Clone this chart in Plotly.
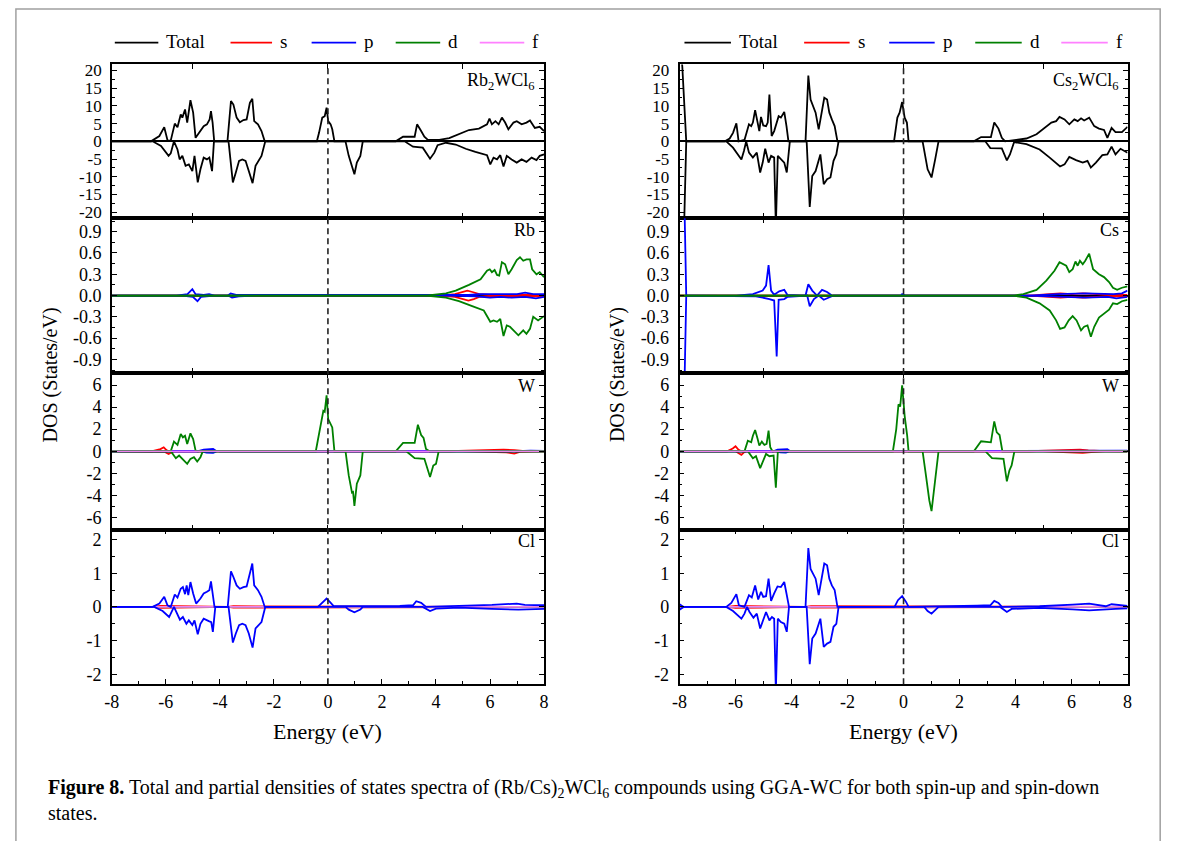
import plotly.graph_objects as go

# ---------------------------------------------------------------------------
# Density of states data: (energy in eV, DOS in states/eV).
# Spin-down channels are stored with negative sign, as plotted.
# ---------------------------------------------------------------------------

# ---- Rb2WCl6 : total DOS ----
RB_TOTAL_UP = [(-8, 0), (-6.55, 0), (-6.24, 1.5), (-6.06, 4.0), (-5.94, 0.3), (-5.82, 0.2), (-5.67, 5.0),
               (-5.57, 4.0), (-5.45, 7.6), (-5.39, 6.7), (-5.29, 9.0), (-5.21, 5.3), (-5.09, 11.6), (-4.99, 8.1),
               (-4.90, 1.0), (-4.72, 2.9), (-4.60, 4.3), (-4.48, 4.8), (-4.38, 6.2), (-4.33, 8.5), (-4.27, 5.3),
               (-4.21, 0), (-3.72, 0), (-3.66, 5.3), (-3.59, 11.4), (-3.50, 10.4), (-3.38, 6.7), (-3.26, 5.4),
               (-3.13, 6.0), (-3.01, 6.2), (-2.89, 10.9), (-2.80, 12.0), (-2.73, 5.7), (-2.59, 4.8), (-2.46, 2.9),
               (-2.34, 0), (-0.41, 0), (-0.33, 2.4), (-0.21, 6.7), (-0.12, 7.1), (-0.05, 9.5), (0.01, 5.7),
               (0.10, 4.8), (0.16, 3.4), (0.24, 0), (2.51, 0), (2.78, 1.3), (3.21, 1.3), (3.30, 4.8), (3.45, 2.9),
               (3.57, 1.3), (3.70, 0.4), (4.12, 0.4), (4.49, 0.9), (4.85, 2.0), (5.22, 3.2), (5.59, 3.6),
               (5.89, 4.8), (5.98, 6.4), (6.07, 4.8), (6.20, 5.7), (6.32, 4.8), (6.44, 6.7), (6.56, 5.3),
               (6.68, 3.4), (6.87, 5.3), (6.99, 5.7), (7.17, 4.8), (7.35, 5.3), (7.48, 5.9), (7.66, 3.8),
               (7.84, 4.1), (8.0, 2.9)]
RB_TOTAL_DN = [(-8, 0), (-6.49, 0), (-6.18, -1.3), (-5.90, -4.1), (-5.82, -3.4), (-5.70, 0), (-5.57, -2.3),
               (-5.49, -5.1), (-5.39, -4.1), (-5.27, -6.9), (-5.15, -6.5), (-5.02, -8.4), (-4.94, -4.1),
               (-4.82, -11.6), (-4.72, -7.9), (-4.60, -4.6), (-4.48, -5.1), (-4.39, -4.6), (-4.29, -8.4),
               (-4.22, 0), (-3.68, 0), (-3.62, -4.1), (-3.52, -11.6), (-3.41, -8.8), (-3.29, -5.5), (-3.17, -5.1),
               (-3.05, -5.5), (-2.93, -8.4), (-2.79, -11.8), (-2.68, -6.9), (-2.56, -5.5), (-2.46, -4.1),
               (-2.32, 0), (0.65, 0), (0.77, -4.1), (0.89, -6.9), (0.98, -9.3), (1.07, -6.0), (1.20, -4.1),
               (1.29, 0), (2.84, 0), (3.15, -1.5), (3.51, -1.8), (3.78, -4.9), (3.94, -3.2), (4.06, -1.1),
               (4.37, -0.4), (4.73, -0.9), (5.10, -2.1), (5.46, -3.0), (5.89, -3.9), (6.01, -6.5), (6.13, -4.6),
               (6.26, -5.1), (6.38, -3.9), (6.50, -7.1), (6.62, -4.1), (6.80, -5.1), (6.99, -6.0), (7.17, -5.1),
               (7.35, -5.8), (7.54, -4.6), (7.72, -5.3), (7.84, -4.1), (8.0, -3.7)]

# ---- Rb2WCl6 : Rb partial DOS ----
RB_S_UP = [(-8, 0), (4.2, 0), (4.7, 0.02), (5.0, 0.05), (5.16, 0.07), (5.35, 0.05), (5.6, 0.02), (6.0, 0.01),
           (7.0, 0.01), (8, 0.01)]
RB_S_DN = [(-8, 0), (4.2, 0), (4.7, -0.02), (5.0, -0.05), (5.2, -0.07), (5.4, -0.05), (5.6, -0.02), (6.0, -0.01),
           (8, -0.01)]
RB_P_UP = [(-8, 0), (-5.6, 0), (-5.2, 0.02), (-5.02, 0.09), (-4.9, 0.02), (-4.6, 0.01), (-4.4, 0.02), (-4.2, 0),
           (-3.7, 0), (-3.6, 0.03), (-3.4, 0.01), (-3.0, 0.01), (-2.6, 0), (4.5, 0), (5.2, 0.01), (5.6, 0.02),
           (6.0, 0.02), (6.3, 0.03), (6.6, 0.02), (7.0, 0.02), (7.3, 0.04), (7.6, 0.02), (8, 0.02)]
RB_P_DN = [(-8, 0), (-5.4, 0), (-5.0, -0.02), (-4.83, -0.08), (-4.7, -0.02), (-4.4, -0.01), (-4.2, 0), (-3.7, 0),
           (-3.55, -0.03), (-3.3, -0.01), (-2.6, 0), (4.5, 0), (5.5, -0.01), (6.0, -0.03), (6.4, -0.02),
           (6.8, -0.03), (7.3, -0.02), (7.7, -0.04), (8, -0.02)]
RB_D_UP = [(-8, 0), (3.63, 0), (4.37, 0.03), (4.73, 0.07), (5.22, 0.15), (5.65, 0.23), (5.89, 0.35), (5.99, 0.37),
           (6.07, 0.33), (6.17, 0.36), (6.26, 0.29), (6.34, 0.28), (6.44, 0.47), (6.56, 0.44), (6.68, 0.30),
           (6.80, 0.37), (6.99, 0.50), (7.11, 0.54), (7.23, 0.49), (7.35, 0.51), (7.48, 0.51), (7.56, 0.37),
           (7.72, 0.30), (7.84, 0.33), (8.0, 0.26)]
RB_D_DN = [(-8, 0), (3.63, 0), (4.37, -0.03), (4.85, -0.08), (5.34, -0.15), (5.77, -0.21), (6.01, -0.37),
           (6.13, -0.35), (6.26, -0.37), (6.38, -0.33), (6.50, -0.57), (6.62, -0.42), (6.74, -0.44), (6.87, -0.49),
           (7.05, -0.56), (7.23, -0.49), (7.35, -0.54), (7.48, -0.47), (7.60, -0.30), (7.78, -0.35), (8.0, -0.29)]

# ---- Rb2WCl6 : W partial DOS ----
W1_S_UP = [(-8, 0), (-6.5, 0), (-6.2, 0.2), (-6.08, 0.36), (-5.98, 0.1), (-5.9, 0), (4.5, 0), (5.5, 0.05),
           (6.0, 0.1), (6.5, 0.15), (6.9, 0.1), (7.2, 0.03), (8, 0)]
W1_S_DN = [(-8, 0), (-6.3, 0), (-6.05, -0.05), (-5.9, -0.24), (-5.8, -0.1), (-5.7, 0), (5.0, 0), (6.0, -0.05),
           (6.6, -0.1), (6.9, -0.22), (7.1, -0.05), (8, 0)]
W1_P_UP = [(-8, 0), (-4.8, 0), (-4.6, 0.15), (-4.4, 0.18), (-4.25, 0.22), (-4.15, 0.05), (-4.0, 0), (7.0, 0),
           (7.5, 0.05), (8, 0.03)]
W1_P_DN = [(-8, 0), (-4.7, 0), (-4.5, -0.12), (-4.25, -0.15), (-4.1, 0), (8, 0)]
W1_D_UP = [(-8, 0), (-5.82, 0), (-5.70, 0.87), (-5.57, 0.57), (-5.45, 1.56), (-5.37, 1.26), (-5.29, 1.41),
           (-5.21, 0.66), (-5.09, 1.62), (-4.99, 1.11), (-4.90, 0.06), (-4.84, 0), (-0.45, 0), (-0.29, 2.01),
           (-0.17, 3.66), (-0.12, 3.57), (-0.05, 5.07), (0.01, 2.91), (0.10, 2.46), (0.16, 2.16), (0.24, 0),
           (2.51, 0), (2.78, 0.75), (3.21, 0.75), (3.33, 2.40), (3.45, 1.47), (3.54, 1.20), (3.63, 0.21),
           (3.76, 0), (8, 0)]
W1_D_DN = [(-8, 0), (-5.82, 0), (-5.63, -0.63), (-5.51, -0.39), (-5.39, -0.69), (-5.21, -1.14), (-5.09, -0.69),
           (-4.96, -0.54), (-4.84, -0.93), (-4.72, -0.54), (-4.63, 0), (0.65, 0), (0.77, -2.19), (0.89, -3.75),
           (0.93, -3.69), (0.98, -4.95), (1.07, -2.94), (1.20, -2.19), (1.29, 0), (2.90, 0), (3.21, -0.63),
           (3.57, -0.69), (3.78, -2.34), (3.90, -1.29), (4.00, -1.14), (4.10, 0), (8, 0)]

# ---- Rb2WCl6 : Cl partial DOS ----
CL1_S_UP = [(-8, 0), (-6.5, 0), (-6.2, 0.03), (-5.0, 0.02), (-4.2, 0.02), (-4.1, 0), (-3.7, 0), (-3.5, 0.02),
            (-2.4, 0.02), (-2.3, 0), (8, 0)]
CL1_S_DN = [(-8, 0), (-6.5, 0), (-6.2, -0.03), (-5.0, -0.02), (-4.2, -0.02), (-4.1, 0), (-3.7, 0), (-3.5, -0.02),
            (-2.4, -0.02), (-2.3, 0), (8, 0)]
CL1_P_UP = [(-8, 0), (-6.49, 0), (-6.24, 0.10), (-6.06, 0.30), (-5.94, 0.05), (-5.82, 0), (-5.67, 0.37),
            (-5.57, 0.28), (-5.45, 0.54), (-5.37, 0.59), (-5.29, 0.38), (-5.23, 0.64), (-5.17, 0.35), (-5.09, 0.74),
            (-4.99, 0.40), (-4.88, 0.10), (-4.72, 0.25), (-4.60, 0.40), (-4.48, 0.45), (-4.39, 0.50), (-4.33, 0.76),
            (-4.27, 0.40), (-4.20, 0), (-3.71, 0), (-3.65, 0.50), (-3.59, 1.06), (-3.50, 0.89), (-3.38, 0.64),
            (-3.26, 0.54), (-3.13, 0.59), (-3.01, 0.61), (-2.89, 1.04), (-2.80, 1.29), (-2.73, 0.64), (-2.59, 0.50),
            (-2.46, 0.30), (-2.34, 0), (-0.37, 0), (-0.21, 0.12), (-0.05, 0.25), (0.07, 0.15), (0.22, 0.02),
            (2.66, 0.03), (3.15, 0.05), (3.27, 0.17), (3.45, 0.12), (3.63, 0), (4.85, 0.02), (6.07, 0.06),
            (6.99, 0.10), (7.29, 0.06), (8.0, 0.05)]
CL1_P_DN = [(-8, 0), (-6.43, 0), (-6.12, -0.12), (-5.88, -0.30), (-5.70, 0), (-5.57, -0.20), (-5.48, -0.38),
            (-5.37, -0.30), (-5.24, -0.50), (-5.15, -0.40), (-5.02, -0.54), (-4.94, -0.40), (-4.82, -0.81),
            (-4.72, -0.50), (-4.60, -0.35), (-4.41, -0.42), (-4.32, -0.45), (-4.26, -0.74), (-4.17, 0), (-3.68, 0),
            (-3.62, -0.40), (-3.52, -1.06), (-3.41, -0.79), (-3.29, -0.54), (-3.17, -0.50), (-3.05, -0.54),
            (-2.93, -0.79), (-2.79, -1.21), (-2.68, -0.64), (-2.56, -0.54), (-2.46, -0.45), (-2.32, 0), (0.65, 0),
            (0.77, -0.08), (0.98, -0.16), (1.20, -0.08), (1.29, 0), (3.51, 0), (3.78, -0.12), (4.00, -0.05),
            (4.85, -0.02), (6.07, -0.06), (7.05, -0.08), (8.0, -0.06)]

# ---- Cs2WCl6 : total DOS ----
CS_TOTAL_UP = [(-8, 30), (-7.9, 21), (-7.76, 0), (-6.38, 0), (-6.21, 0.8), (-6.09, 2.4), (-5.97, 5.1), (-5.89, 0),
               (-5.68, 0.4), (-5.52, 4.8), (-5.44, 4.3), (-5.38, 5.3), (-5.30, 8.8), (-5.23, 5.7), (-5.15, 2.9),
               (-5.09, 6.9), (-5.01, 4.5), (-4.91, 4.3), (-4.85, 5.3), (-4.79, 13.2), (-4.71, 1.5), (-4.62, 2.9),
               (-4.53, 5.3), (-4.46, 7.1), (-4.38, 6.7), (-4.26, 8.3), (-4.18, 4.3), (-4.11, 0), (-3.50, 0),
               (-3.40, 18.6), (-3.32, 11.8), (-3.24, 10.0), (-3.14, 8.1), (-3.03, 3.4), (-2.91, 9.0), (-2.83, 12.3),
               (-2.73, 11.8), (-2.65, 8.1), (-2.56, 6.2), (-2.46, 4.3), (-2.36, 0), (-0.34, 0), (-0.22, 6.7),
               (-0.14, 8.1), (-0.05, 11.1), (0.04, 6.7), (0.12, 5.3), (0.18, 0), (2.51, 0), (2.77, 1.2), (3.12, 1.2),
               (3.24, 5.3), (3.39, 3.6), (3.51, 1.0), (3.63, 0), (3.98, 0.4), (4.39, 0.8), (4.75, 2.0), (5.04, 3.8),
               (5.28, 5.3), (5.45, 5.7), (5.57, 6.9), (5.75, 6.2), (5.92, 4.8), (6.10, 6.2), (6.22, 5.7),
               (6.34, 6.5), (6.45, 5.9), (6.63, 6.7), (6.81, 4.3), (6.98, 3.6), (7.16, 3.2), (7.28, 1.0),
               (7.43, 3.8), (7.57, 2.6), (7.80, 2.6), (8.0, 4.1)]
CS_TOTAL_DN = [(-8, -40), (-7.83, -22), (-7.76, 0), (-6.33, 0), (-6.09, -1.8), (-5.79, -5.1), (-5.70, -2.7),
               (-5.62, 0), (-5.52, -3.2), (-5.38, -4.6), (-5.24, -3.2), (-5.12, -8.8), (-5.03, -6.0), (-4.94, -2.1),
               (-4.82, -6.0), (-4.73, -4.1), (-4.62, -4.6), (-4.56, -24), (-4.49, -4.1), (-4.38, -5.1),
               (-4.26, -6.0), (-4.17, -8.8), (-4.06, 0), (-3.46, 0), (-3.35, -18.5), (-3.26, -9.8), (-3.14, -8.4),
               (-2.97, -3.7), (-2.85, -12.1), (-2.73, -10.7), (-2.61, -10.2), (-2.50, -5.5), (-2.40, -3.7),
               (-2.32, 0), (0.68, 0), (0.86, -7.9), (1.00, -10.2), (1.13, -5.1), (1.25, 0), (2.92, 0), (3.10, -1.9),
               (3.51, -2.0), (3.69, -5.4), (3.80, -3.7), (3.95, -0.2), (4.39, -0.8), (4.86, -2.3), (5.22, -4.6),
               (5.45, -6.0), (5.59, -7.1), (5.75, -6.5), (5.92, -4.4), (6.16, -5.3), (6.40, -6.0), (6.57, -5.5),
               (6.69, -7.4), (6.87, -6.0), (7.10, -3.9), (7.28, -3.7), (7.43, -1.5), (7.57, -3.7), (7.75, -2.1),
               (8.0, -3.2)]

# ---- Cs2WCl6 : Cs partial DOS ----
CS_S_UP = [(-8, 0), (4.5, 0), (5.2, 0.02), (5.6, 0.03), (6.0, 0.02), (6.4, 0.03), (6.9, 0.02), (7.4, 0.01),
           (8, 0.01)]
CS_S_DN = [(-8, 0), (4.5, 0), (5.2, -0.02), (5.6, -0.03), (6.0, -0.02), (6.4, -0.03), (6.9, -0.02), (7.4, -0.01),
           (8, -0.01)]
CS_P_UP = [(-8, 1.6), (-7.82, 1.2), (-7.76, 0), (-5.97, 0), (-5.38, 0.02), (-5.03, 0.07), (-4.91, 0.14),
           (-4.82, 0.43), (-4.73, 0.07), (-4.62, 0.01), (-4.44, 0.06), (-4.26, 0.08), (-4.15, 0.01), (-3.50, 0),
           (-3.40, 0.16), (-3.26, 0.07), (-3.09, 0), (-2.91, 0.08), (-2.73, 0.05), (-2.56, 0), (-0.1, 0),
           (-0.05, 0.02), (0.05, 0), (4.5, 0), (5.5, 0.02), (6.5, 0.03), (7.5, 0.02), (7.8, 0.03), (8, 0.07)]
CS_P_DN = [(-8, -1.6), (-7.82, -1.2), (-7.76, 0), (-5.6, 0), (-5.27, -0.01), (-4.79, -0.05), (-4.62, -0.07),
           (-4.53, -0.86), (-4.46, -0.06), (-4.26, -0.05), (-4.15, -0.02), (-3.44, 0), (-3.35, -0.15),
           (-3.20, -0.05), (-3.03, 0), (-2.85, -0.06), (-2.67, -0.03), (-2.50, 0), (4.5, 0), (5.5, -0.02),
           (6.5, -0.03), (7.3, -0.02), (7.6, -0.04), (8, -0.02)]
CS_D_UP = [(-8, 0), (3.92, 0), (4.28, 0.02), (4.75, 0.08), (5.10, 0.21), (5.39, 0.35), (5.57, 0.47), (5.69, 0.44),
           (5.81, 0.42), (5.92, 0.33), (6.04, 0.37), (6.14, 0.48), (6.22, 0.42), (6.30, 0.49), (6.40, 0.44),
           (6.49, 0.49), (6.63, 0.59), (6.77, 0.37), (6.98, 0.30), (7.16, 0.26), (7.34, 0.19), (7.48, 0.11),
           (7.63, 0.08), (7.80, 0.11), (8.0, 0.13)]
CS_D_DN = [(-8, 0), (3.92, 0), (4.39, -0.03), (4.86, -0.11), (5.22, -0.21), (5.45, -0.35), (5.59, -0.47),
           (5.75, -0.45), (5.90, -0.35), (6.04, -0.29), (6.18, -0.35), (6.34, -0.49), (6.45, -0.44), (6.57, -0.42),
           (6.69, -0.58), (6.81, -0.44), (6.98, -0.31), (7.16, -0.26), (7.34, -0.20), (7.48, -0.11), (7.63, -0.12),
           (7.80, -0.08), (8.0, -0.06)]

# ---- Cs2WCl6 : W partial DOS ----
W2_S_UP = [(-8, 0), (-6.3, 0), (-6.1, 0.25), (-6.0, 0.45), (-5.9, 0.15), (-5.8, 0), (4.5, 0), (5.5, 0.05),
           (6.0, 0.12), (6.3, 0.15), (6.6, 0.08), (7.0, 0.02), (8, 0)]
W2_S_DN = [(-8, 0), (-6.0, 0), (-5.9, -0.15), (-5.79, -0.33), (-5.7, -0.1), (-5.6, 0), (5.0, 0), (6.0, -0.08),
           (6.4, -0.15), (6.7, -0.08), (7.2, 0), (8, 0)]
W2_P_UP = [(-8, 0), (-4.65, 0), (-4.5, 0.15), (-4.3, 0.2), (-4.15, 0.18), (-4.05, 0), (7.5, 0), (8, 0.05)]
W2_P_DN = [(-8, 0), (-4.6, 0), (-4.4, -0.1), (-4.2, -0.12), (-4.05, 0), (8, 0)]
W2_D_UP = [(-8, 0), (-5.68, 0), (-5.56, 0.96), (-5.44, 0.81), (-5.38, 1.41), (-5.30, 1.92), (-5.21, 1.11),
           (-5.15, 0.51), (-5.06, 0.87), (-4.97, 0.57), (-4.89, 0.66), (-4.82, 1.86), (-4.76, 0.36), (-4.68, 0),
           (-0.38, 0), (-0.26, 2.01), (-0.18, 4.26), (-0.12, 4.05), (-0.05, 5.97), (0.04, 3.21), (0.13, 1.41),
           (0.18, 0), (2.51, 0), (2.77, 0.90), (3.12, 0.81), (3.24, 2.70), (3.33, 1.71), (3.43, 1.47), (3.53, 0),
           (8, 0)]
W2_D_DN = [(-8, 0), (-5.56, 0), (-5.38, -0.63), (-5.27, -0.45), (-5.12, -1.53), (-5.01, -0.84), (-4.91, -0.24),
           (-4.79, -0.45), (-4.64, -0.39), (-4.56, -3.30), (-4.49, -0.09), (-4.44, 0), (0.68, 0), (0.80, -2.19),
           (0.92, -4.44), (1.00, -5.43), (1.10, -3.09), (1.15, -2.49), (1.25, 0), (2.92, 0), (3.16, -0.63),
           (3.57, -0.69), (3.69, -2.73), (3.78, -1.74), (3.86, -1.29), (3.96, 0), (8, 0)]

# ---- Cs2WCl6 : Cl partial DOS ----
CL2_S_UP = [(-8, 0), (-6.3, 0), (-6.0, 0.03), (-5.0, 0.02), (-4.2, 0.01), (-4.1, 0), (-3.5, 0), (-3.3, 0.02),
            (-2.6, 0.02), (-2.4, 0), (8, 0)]
CL2_S_DN = [(-8, 0), (-6.3, 0), (-6.0, -0.03), (-5.0, -0.02), (-4.2, -0.01), (-4.1, 0), (-3.5, 0), (-3.3, -0.02),
            (-2.6, -0.02), (-2.4, 0), (8, 0)]
CL2_P_UP = [(-8, 0.08), (-7.85, 0), (-6.33, 0), (-6.15, 0.12), (-5.97, 0.38), (-5.88, 0.05), (-5.68, 0),
            (-5.52, 0.35), (-5.42, 0.28), (-5.30, 0.64), (-5.19, 0.22), (-5.09, 0.45), (-5.01, 0.30), (-4.91, 0.32),
            (-4.82, 0.84), (-4.73, 0.18), (-4.62, 0.40), (-4.50, 0.61), (-4.38, 0.59), (-4.26, 0.74), (-4.18, 0.40),
            (-4.09, 0), (-3.50, 0), (-3.40, 1.75), (-3.32, 1.13), (-3.24, 0.99), (-3.14, 0.84), (-3.03, 0.35),
            (-2.91, 0.99), (-2.83, 1.29), (-2.73, 1.24), (-2.65, 0.84), (-2.56, 0.64), (-2.46, 0.50), (-2.36, 0),
            (-0.32, 0), (-0.20, 0.20), (-0.05, 0.32), (0.09, 0.15), (0.18, 0), (2.63, 0.04), (3.10, 0.05),
            (3.24, 0.18), (3.39, 0.12), (3.51, 0), (4.86, 0.02), (6.04, 0.07), (6.63, 0.10), (7.22, 0.02),
            (7.43, 0.08), (8.0, 0.03)]
CL2_P_DN = [(-8, -0.08), (-7.85, 0), (-6.33, 0), (-6.09, -0.12), (-5.79, -0.35), (-5.68, -0.20), (-5.59, 0),
            (-5.50, -0.15), (-5.36, -0.32), (-5.24, -0.20), (-5.12, -0.64), (-5.01, -0.40), (-4.91, -0.15),
            (-4.79, -0.40), (-4.70, -0.30), (-4.62, -0.35), (-4.56, -2.5), (-4.49, -0.35), (-4.38, -0.45),
            (-4.26, -0.50), (-4.17, -0.74), (-4.09, 0), (-3.46, 0), (-3.35, -1.70), (-3.26, -0.94), (-3.14, -0.79),
            (-2.97, -0.35), (-2.85, -1.19), (-2.73, -1.09), (-2.61, -1.04), (-2.50, -0.59), (-2.40, -0.50),
            (-2.32, 0), (0.74, 0), (0.86, -0.12), (1.00, -0.20), (1.15, -0.08), (1.25, 0), (3.45, 0),
            (3.69, -0.15), (3.86, -0.06), (4.86, -0.03), (6.04, -0.07), (6.63, -0.10), (7.57, -0.06), (8.0, -0.04)]

# channels with no visible weight in the window
FLAT = [(-8, 0), (8, 0)]

# ---- axes / labels ----
ENERGY_TICKS = [-8, -6, -4, -2, 0, 2, 4, 6, 8]
Y_TICKS = [
    [-20, -15, -10, -5, 0, 5, 10, 15, 20],
    [-0.9, -0.6, -0.3, 0.0, 0.3, 0.6, 0.9],
    [-6, -4, -2, 0, 2, 4, 6],
    [-2, -1, 0, 1, 2],
]
Y_TICK_TEXT = [
    ["-20", "-15", "-10", "-5", "0", "5", "10", "15", "20"],
    ["-0.9", "-0.6", "-0.3", "0.0", "0.3", "0.6", "0.9"],
    ["-6", "-4", "-2", "0", "2", "4", "6"],
    ["-2", "-1", "0", "1", "2"],
]
Y_LIMITS = [21.7, 1.09, 7.1, 2.3]
Y_MINOR = [2.5, 0.15, 1.0, 0.5]
ORBITALS = ["Total", "s", "p", "d", "f"]
COLORS = {"Total": "#000000", "s": "#ff0000", "p": "#0000ff", "d": "#008000", "f": "#ff80ff"}

COLUMNS = [
    dict(compound="Rb<sub>2</sub>WCl<sub>6</sub>", sites=["Rb", "W", "Cl"],
         total=(RB_TOTAL_UP, RB_TOTAL_DN),
         parts=[
             [("s", RB_S_UP, RB_S_DN), ("p", RB_P_UP, RB_P_DN), ("d", RB_D_UP, RB_D_DN)],
             [("s", W1_S_UP, W1_S_DN), ("p", W1_P_UP, W1_P_DN), ("d", W1_D_UP, W1_D_DN), ("f", FLAT, FLAT)],
             [("s", CL1_S_UP, CL1_S_DN), ("d", FLAT, FLAT), ("f", FLAT, FLAT), ("p", CL1_P_UP, CL1_P_DN)],
         ]),
    dict(compound="Cs<sub>2</sub>WCl<sub>6</sub>", sites=["Cs", "W", "Cl"],
         total=(CS_TOTAL_UP, CS_TOTAL_DN),
         parts=[
             [("s", CS_S_UP, CS_S_DN), ("p", CS_P_UP, CS_P_DN), ("d", CS_D_UP, CS_D_DN)],
             [("s", W2_S_UP, W2_S_DN), ("p", W2_P_UP, W2_P_DN), ("d", W2_D_UP, W2_D_DN), ("f", FLAT, FLAT)],
             [("s", CL2_S_UP, CL2_S_DN), ("d", FLAT, FLAT), ("f", FLAT, FLAT), ("p", CL2_P_UP, CL2_P_DN)],
         ]),
]

# ---------------------------------------------------------------------------
# Page geometry (pixels of the 1181 x 841 page)
# ---------------------------------------------------------------------------
W, H = 1181, 841
COL_X = [(105, 542), (679, 1132)]
ROW_Y = [(62, 217), (217, 373), (373, 531), (531, 687)]
SERIF = "Liberation Serif"


def px(x):
    return x / W


def py(y):
    return 1 - y / H


def axis_ids(col, row):
    n = col * 4 + row + 1
    return ("x" if n == 1 else f"x{n}"), ("y" if n == 1 else f"y{n}"), n


fig = go.Figure()


def add_curve(points, color, col, row, width=1.8):
    xa, ya, _ = axis_ids(col, row)
    fig.add_trace(go.Scatter(
        x=[p[0] for p in points], y=[p[1] for p in points], mode="lines",
        line=dict(color=color, width=width), xaxis=xa, yaxis=ya,
        showlegend=False, hoverinfo="skip"))


for c, column in enumerate(COLUMNS):
    up, dn = column["total"]
    add_curve(up, COLORS["Total"], c, 0)
    add_curve(dn, COLORS["Total"], c, 0)
    for r, parts in enumerate(column["parts"], start=1):
        for orb, up, dn in parts:
            w = 1.2 if orb == "f" else 1.8
            add_curve(up, COLORS[orb], c, r, w)
            add_curve(dn, COLORS[orb], c, r, w)

layout = dict(
    width=W, height=H, margin=dict(l=0, r=0, t=0, b=0),
    paper_bgcolor="white", plot_bgcolor="white", showlegend=False,
    font=dict(family=SERIF, color="black", size=18),
)

annotations = []
shapes = []

for c in range(2):
    x0, x1 = COL_X[c]
    for r in range(4):
        xa, ya, n = axis_ids(c, r)
        top, bot = ROW_Y[r]
        xkey = "xaxis" if n == 1 else f"xaxis{n}"
        ykey = "yaxis" if n == 1 else f"yaxis{n}"
        last = (r == 3)
        xaxis = dict(
            domain=[px(x0), px(x1)], anchor=ya, range=[-8, 8],
            showline=True, linecolor="black", linewidth=1.6, mirror="ticks",
            showgrid=False, zeroline=False, ticks="inside", ticklen=5, tickwidth=1.2,
            tickcolor="black",
        )
        if last:
            xaxis.update(tickmode="array", tickvals=ENERGY_TICKS,
                         ticktext=[str(v) if v >= 0 else f"-{abs(v)}" for v in ENERGY_TICKS],
                         showticklabels=True, tickfont=dict(family=SERIF, size=18, color="black"),
                         minor=dict(dtick=1, tick0=0, ticks="inside", ticklen=3, tickcolor="black", tickwidth=1))
        else:
            xaxis.update(tickmode="array", tickvals=[-5, 0, 5], showticklabels=False)
        yaxis = dict(
            domain=[py(bot), py(top)], anchor=xa, range=[-Y_LIMITS[r], Y_LIMITS[r]],
            showline=True, linecolor="black", linewidth=1.6, mirror="ticks",
            showgrid=False, zeroline=True, zerolinecolor="black", zerolinewidth=1.6,
            ticks="inside", ticklen=5, tickwidth=1.2, tickcolor="black",
            tickmode="array", tickvals=Y_TICKS[r], ticktext=Y_TICK_TEXT[r],
            tickfont=dict(family=SERIF, size=17 if r == 0 else 18, color="black"), ticklabelstandoff=5,
            minor=dict(dtick=Y_MINOR[r], tick0=0, ticks="inside", ticklen=3, tickcolor="black", tickwidth=1),
        )
        layout[xkey] = xaxis
        layout[ykey] = yaxis

    # Fermi level marker across the four stacked panels
    xa, _, _ = axis_ids(c, 0)
    shapes.append(dict(type="line", xref=xa, yref="paper", x0=0, x1=0,
                       y0=py(ROW_Y[3][1]), y1=py(ROW_Y[0][0]),
                       line=dict(color="#222222", width=1.6, dash="6px,4px")))

    # panel labels
    label_y = [79, 229, 386, 543]
    labels = [COLUMNS[c]["compound"]] + COLUMNS[c]["sites"]
    for r, text in enumerate(labels):
        annotations.append(dict(text=text, xref="paper", yref="paper", x=px(x1 - 7), y=py(label_y[r]),
                                xanchor="right", yanchor="middle", showarrow=False,
                                font=dict(family=SERIF, size=18, color="black")))

    # axis titles
    annotations.append(dict(text="Energy (eV)", xref="paper", yref="paper", x=px((x0 + x1) / 2), y=py(735),
                            xanchor="center", yanchor="middle", showarrow=False,
                            font=dict(family=SERIF, size=22, color="black")))
    annotations.append(dict(text="DOS (States/eV)", xref="paper", yref="paper", x=px(x0 - 62), y=py(375),
                            xanchor="center", yanchor="middle", showarrow=False, textangle=-90,
                            font=dict(family=SERIF, size=20, color="black")))

# legend rows above each column
LEGEND_LINES = [
    [(108, 152), (225, 267), (307, 352), (392, 437), (477, 522)],
    [(684, 731), (805, 851), (891, 937), (978, 1025), (1065, 1112)],
]
LEGEND_Y = 40
for c in range(2):
    for orb, (a, b) in zip(ORBITALS, LEGEND_LINES[c]):
        shapes.append(dict(type="line", xref="paper", yref="paper", x0=px(a), x1=px(b),
                           y0=py(LEGEND_Y), y1=py(LEGEND_Y), line=dict(color=COLORS[orb], width=1.6)))
        annotations.append(dict(text=orb, xref="paper", yref="paper", x=px(b + 6), y=py(LEGEND_Y - 1),
                                xanchor="left", yanchor="middle", showarrow=False,
                                font=dict(family=SERIF, size=19, color="black")))

# caption
annotations.append(dict(
    text="<b>Figure 8.</b> Total and partial densities of states spectra of (Rb/Cs)<sub>2</sub>WCl<sub>6</sub> "
         "compounds using GGA-WC for both spin-up and spin-down",
    xref="paper", yref="paper", x=px(38), y=py(792), xanchor="left", yanchor="middle",
    showarrow=False, font=dict(family=SERIF, size=20, color="black")))
annotations.append(dict(
    text="states.", xref="paper", yref="paper", x=px(38), y=py(817), xanchor="left", yanchor="middle",
    showarrow=False, font=dict(family=SERIF, size=20, color="black")))

# page frame
shapes.append(dict(type="rect", xref="paper", yref="paper", x0=px(8), x1=px(1165), y0=-0.02, y1=py(6),
                   line=dict(color="#a0a0a0", width=1.5), fillcolor="rgba(0,0,0,0)", layer="below"))

layout["annotations"] = annotations
layout["shapes"] = shapes
fig.update_layout(**layout)
fig.write_html("out.html")
